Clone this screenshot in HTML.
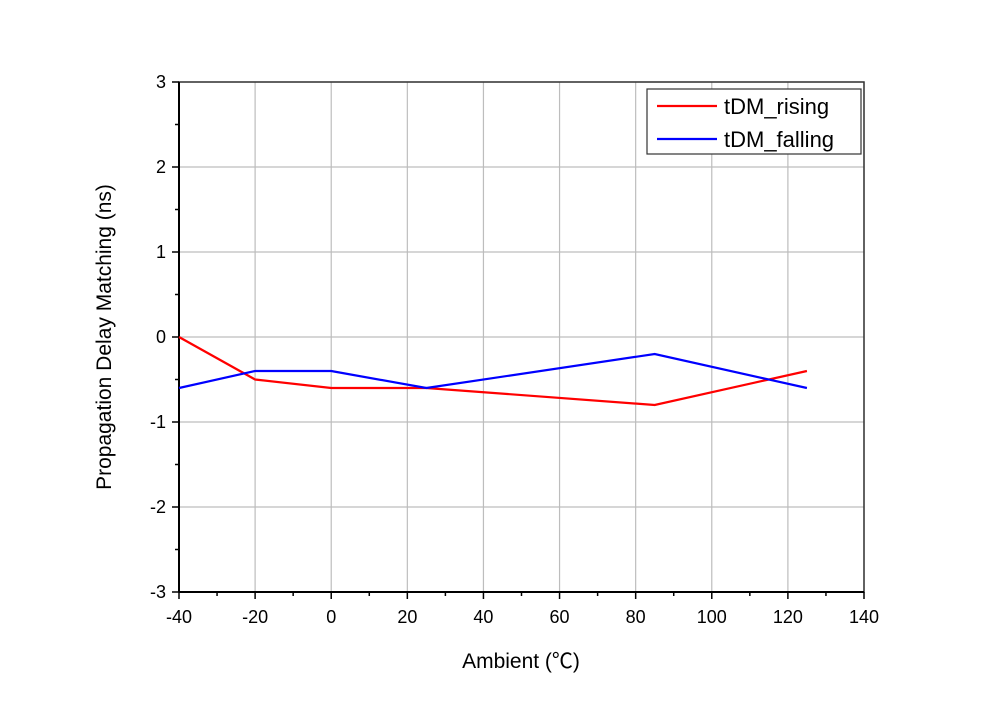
<!DOCTYPE html>
<html><head><meta charset="utf-8"><style>
body{margin:0;background:#fff}
svg{display:block;font-family:"Liberation Sans","Noto Sans CJK SC",sans-serif}
</style></head><body>
<svg id="c" width="1002" height="709"></svg>
<script>
const xTicks=[-40,-20,0,20,40,60,80,100,120,140];
const yTicks=[-3,-2,-1,0,1,2,3];
const xs=[-40,-20,0,25,85,125];
const rising=[0,-0.5,-0.6,-0.6,-0.8,-0.4];
const falling=[-0.6,-0.4,-0.4,-0.6,-0.2,-0.6];
const L=179,R=864,T=82,B=592;
const X=v=>L+(v+40)/180*(R-L);
const Y=v=>B-(v+3)/6*(B-T);
const s=document.getElementById('c');
const NS='http://www.w3.org/2000/svg';
function el(t,a,p){const e=document.createElementNS(NS,t);for(const k in a)e.setAttribute(k,a[k]);(p||s).appendChild(e);return e;}
xTicks.forEach(v=>{const e=el('line',{x1:X(v),x2:X(v),y1:T,y2:B,stroke:'#bdbdbd','stroke-width':1.2});

});
yTicks.forEach(v=>{const e=el('line',{x1:L,x2:R,y1:Y(v),y2:Y(v),stroke:'#bdbdbd','stroke-width':1.2});

});
const fr=el('rect',{x:L,y:T,width:R-L,height:B-T,fill:'none',stroke:'#333','stroke-width':1.5});


el('line',{x1:L,x2:L,y1:T,y2:B,stroke:'#000','stroke-width':2});
el('line',{x1:L,x2:R,y1:B,y2:B,stroke:'#000','stroke-width':2});
for(let v=-40;v<=140;v+=10){const maj=v%20===0;el('line',{x1:X(v),x2:X(v),y1:B,y2:B+(maj?7:4),stroke:'#000','stroke-width':1.5});}
for(let v=-3;v<=3;v+=0.5){const maj=Number.isInteger(v);el('line',{x1:L,x2:L-(maj?7:4),y1:Y(v),y2:Y(v),stroke:'#000','stroke-width':1.5});}
xTicks.forEach(v=>{const t=el('text',{x:X(v),y:B+31,'text-anchor':'middle','font-size':18,fill:'#000'});t.textContent=v;

});
yTicks.forEach(v=>{const t=el('text',{x:L-13,y:Y(v)+6,'text-anchor':'end','font-size':18,fill:'#000'});t.textContent=v;

});
const xt=el('text',{x:521,y:668,'text-anchor':'middle','font-size':21,fill:'#000'});xt.textContent='Ambient (℃)';


const yt=el('text',{x:0,y:0,'text-anchor':'middle','font-size':21,fill:'#000',transform:'translate(111,337) rotate(-90)'});yt.textContent='Propagation Delay Matching (ns)';


function series(d,c,n){const p=el('polyline',{points:xs.map((x,i)=>X(x)+','+Y(d[i])).join(' '),fill:'none',stroke:c,'stroke-width':2.2});

}
series(rising,'#ff0000','line-tdm-rising');
series(falling,'#0000ff','line-tdm-falling');
const lg=el('g',{});


el('rect',{x:647,y:89,width:214,height:65,fill:'#fff',stroke:'#333','stroke-width':1.2},lg);
[['tDM_rising','#ff0000',106],['tDM_falling','#0000ff',139]].forEach(([n,c,y])=>{
el('line',{x1:657,x2:717,y1:y,y2:y,stroke:c,'stroke-width':2.2},lg);
const t=el('text',{x:724,y:y+8,'font-size':22,fill:'#000'},lg);t.textContent=n;

});
</script>
</body></html>
